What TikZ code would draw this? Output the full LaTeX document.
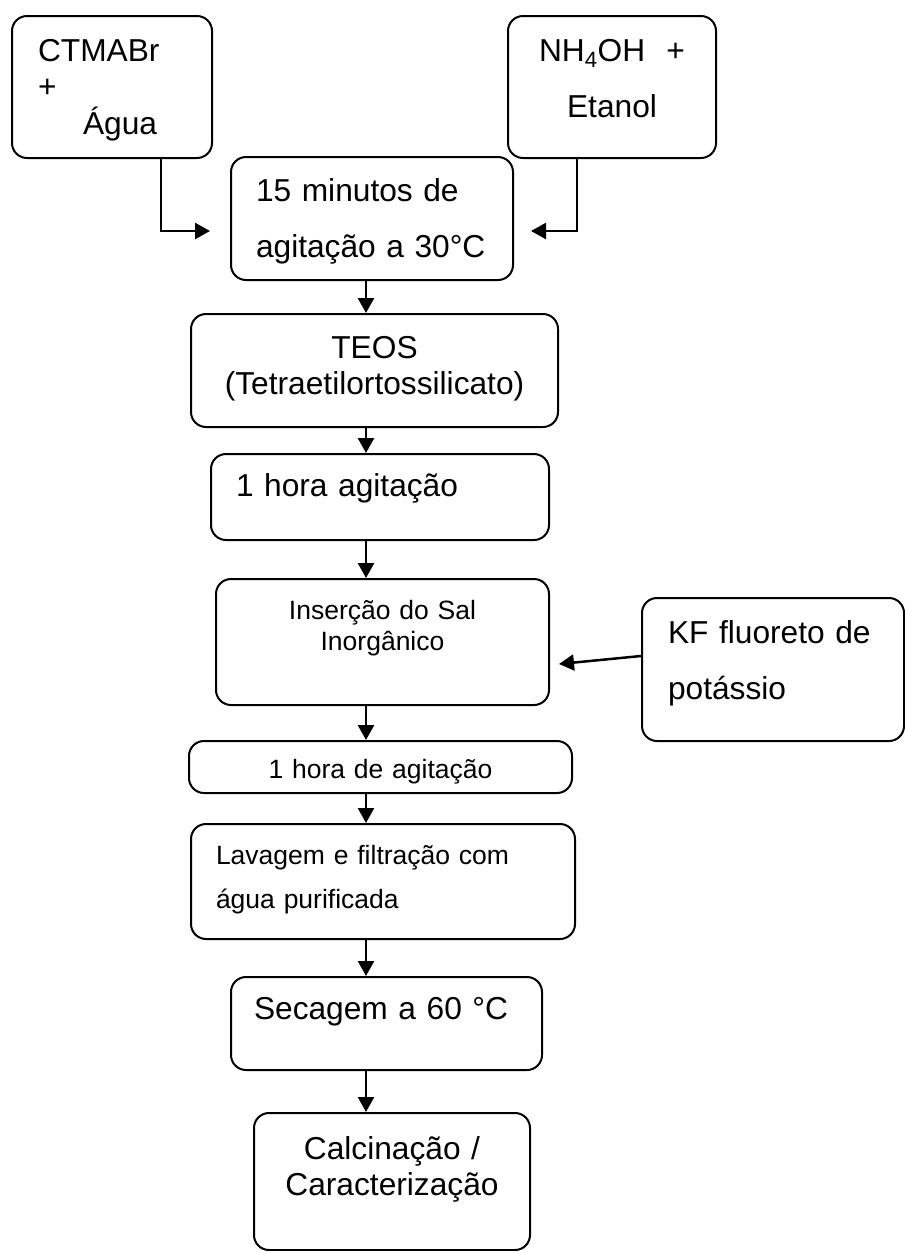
\documentclass[tikz,border=0pt]{standalone}
\usepackage{fontspec}
\setmainfont{Liberation Sans}
\usetikzlibrary{arrows.meta}

\begin{document}
\begin{tikzpicture}[
      x=1pt, y=-1pt,
      box/.style={draw=black, line width=2pt, rounded corners=15pt, anchor=north west,
                  inner ysep=0pt, font=\fontsize{31.7}{36.5}\selectfont},
      boxl/.style={box, align=left, inner xsep=25pt},
      boxc/.style={box, align=center, inner xsep=20pt},
      widetxt/.style={font=\fontsize{31.7}{56}\selectfont},
      smalltxt/.style={font=\fontsize{26.5}{31}\selectfont},
      arr/.style={-{Triangle[length=15pt, width=16pt]}, line width=2.5pt, draw=black}
    ]
    \useasboundingbox (0,0) rectangle (905,1251);
    \coordinate (spine) at (366,0);

    % reagents
    \node[boxl, inner xsep=26pt, text width=148pt, text height=45pt, text depth=97pt] (ctmabr) at (11,15)
         {CTMABr\\+\\\hspace*{45pt}Água};
    \node[boxc, widetxt, text width=168pt, text height=45pt, text depth=97pt] (nhoh) at (507,15)
         {NH\textsubscript{4}OH\ \ +\\Etanol};

    % main sequence
    \node[boxl, widetxt, text width=232pt, text height=44pt, text depth=79pt] (min15) at (230,156)
         {15 minutos de\\agitação a 30°C};
    \node[boxc, text width=327pt, text height=44pt, text depth=69pt] (teos) at (190,313)
         {TEOS\\(Tetraetilortossilicato)};
    \node[boxl, text width=288pt, text height=42pt, text depth=44pt] (agit1) at (210,453)
         {1 hora agitação};
    \node[boxc, smalltxt, text width=293pt, text height=40pt, text depth=86pt] (ins) at (215,578)
         {Inserção do Sal\\Inorgânico};
    \node[boxl, widetxt, inner xsep=26pt, text width=210pt, text height=45pt, text depth=98pt] (kf) at (641,597)
         {KF fluoreto de\\potássio};
    \node[boxc, smalltxt, text width=343pt, text height=37pt, text depth=15pt] (agit2) at (188,740)
         {1 hora de agitação};
    \node[boxl, font=\fontsize{26.5}{44}\selectfont, text width=334pt, text height=40pt, text depth=75pt] (lav) at (190,823)
         {Lavagem e filtração com\\água purificada};
    \node[boxl, inner xsep=23pt, text width=265pt, text height=42pt, text depth=51pt] (sec) at (230,976)
         {Secagem a 60 °C};
    \node[boxc, text width=236pt, text height=46pt, text depth=91pt] (calc) at (253,1112)
         {Calcinação /\\Caracterização};

    % connectors
    \draw[arr] ([xshift=49pt]ctmabr.south) |- ([xshift=-20pt, yshift=-12.5pt]min15.west);
    \draw[arr] ([xshift=-35pt]nhoh.south) |- ([xshift=17pt, yshift=-12.5pt]min15.east);
    \draw[arr] (min15.south -| spine) -- (teos.north -| spine);
    \draw[arr] (teos.south -| spine) -- (agit1.north -| spine);
    \draw[arr] (agit1.south -| spine) -- (ins.north -| spine);
    \draw[arr] ([yshift=13.5pt]kf.west) -- ([xshift=9pt, yshift=-22pt]ins.east);
    \draw[arr] (ins.south -| spine) -- (agit2.north -| spine);
    \draw[arr] (agit2.south -| spine) -- (lav.north -| spine);
    \draw[arr] (lav.south -| spine) -- (sec.north -| spine);
    \draw[arr] (sec.south -| spine) -- (calc.north -| spine);
  \end{tikzpicture}
\end{document}
